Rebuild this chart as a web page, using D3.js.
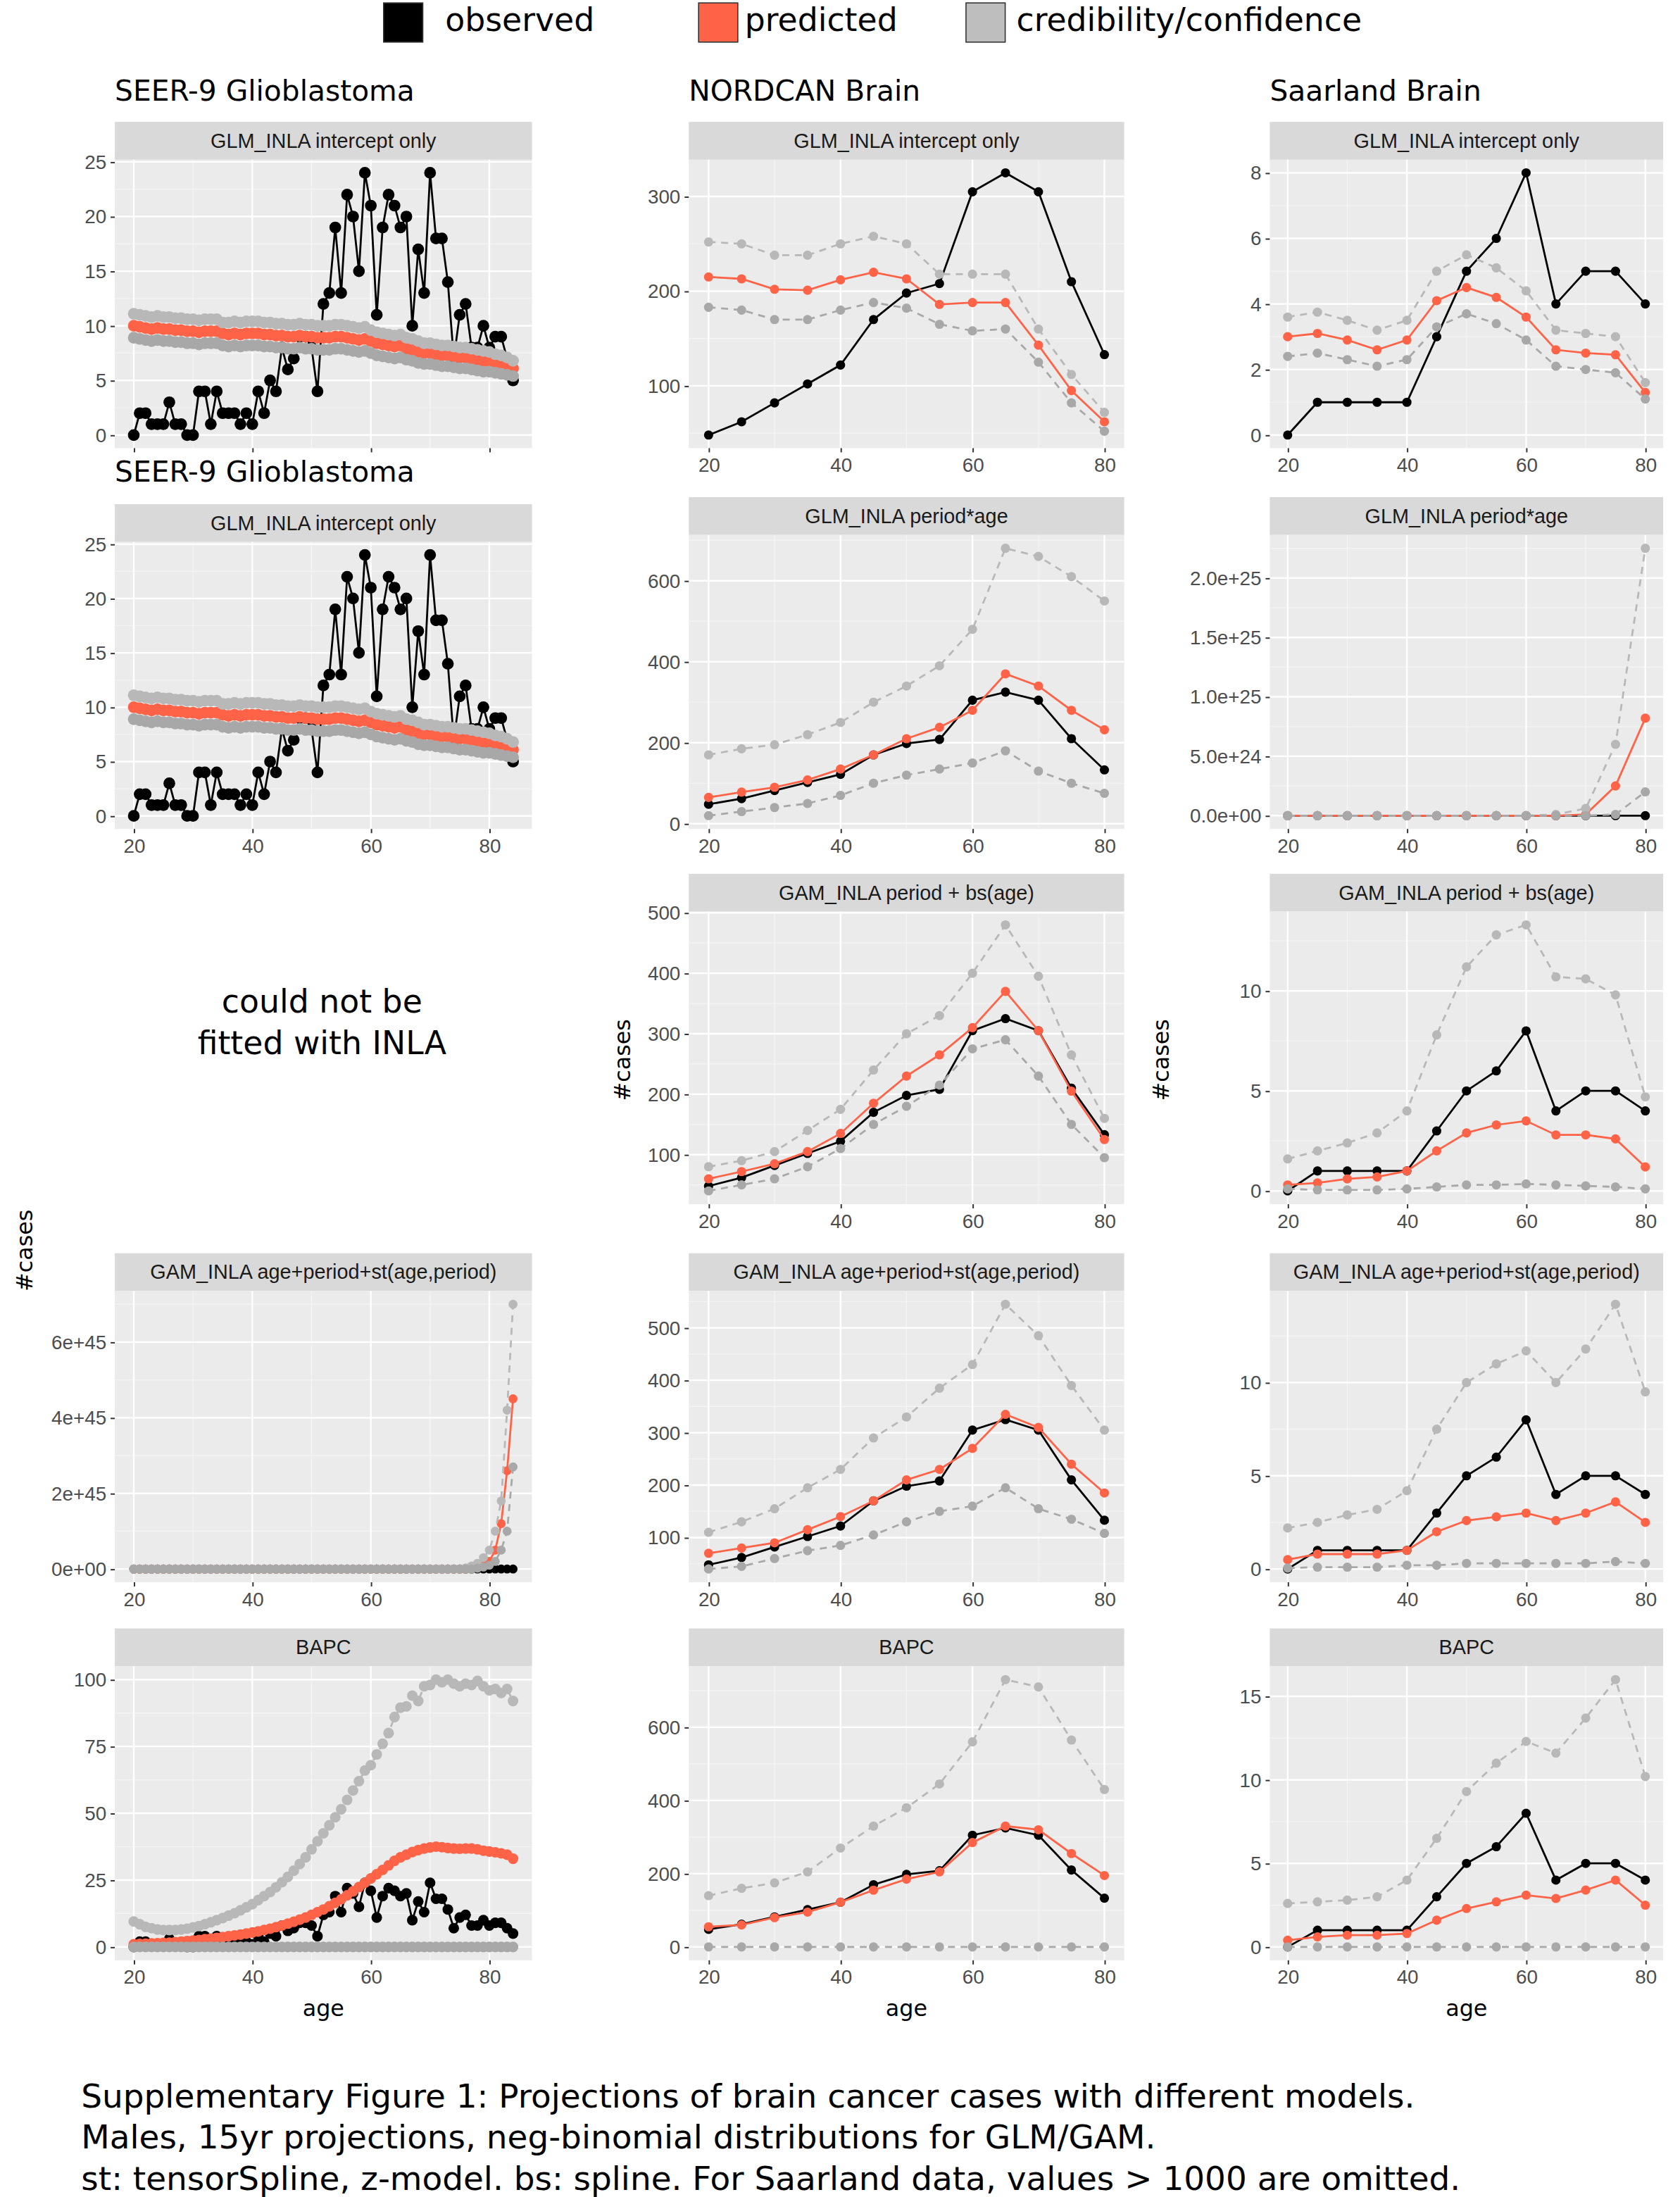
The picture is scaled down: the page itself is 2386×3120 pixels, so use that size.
<!DOCTYPE html>
<html><head><meta charset="utf-8">
<script src="https://cdn.jsdelivr.net/npm/d3@7"></script>
<style>body{margin:0;background:#fff}</style>
</head><body>
<svg id="c" width="2386" height="3120" viewBox="0 0 1200 1569"></svg>
<script>
// ---- data ----
var seerAges = d3.range(20, 85);
var fiveAges = [20,25,30,35,40,45,50,55,60,65,70,75,80];

var seerObs = [0,2,2,1,1,1,3,1,1,0, 0,4,4,1,4,2,2,2,1,2, 1,4,2,5,4,8,6,7,9,9,
  8,4,12,13,19,13,22,20,15,24, 21,11,19,22,21,19,20,10,17,13, 24,18,18,14,7,11,12,8,8,10, 8,9,9,7,5];
var seerIntPred = [10.0,9.9,9.8,9.7,9.8,9.7,9.7,9.6,9.6,9.5, 9.5,9.4,9.5,9.5,9.5,9.3,9.2,9.3,9.2,9.3,
  9.3,9.3,9.2,9.2,9.1,9.1,9.0,9.0,9.1,9.0, 9.0,8.9,8.9,8.9,9.0,9.0,8.9,8.8,8.7,8.8,
  8.6,8.4,8.3,8.2,8.1,8.2,7.9,7.8,7.6,7.5, 7.5,7.4,7.3,7.3,7.2,7.1,7.1,7.0,6.9,6.8, 6.7,6.6,6.5,6.3,6.1];
var seerIntHi = [11.1,11.0,10.9,10.8,10.9,10.8,10.8,10.7,10.7,10.6, 10.6,10.5,10.6,10.6,10.6,10.3,10.3,10.4,10.3,10.4,
  10.4,10.4,10.3,10.3,10.2,10.2,10.1,10.1,10.2,10.1, 10.1,10.0,10.0,10.0,10.1,10.1,10.0,9.9,9.8,9.9,
  9.6,9.4,9.3,9.2,9.1,9.2,8.9,8.8,8.6,8.4, 8.4,8.3,8.2,8.2,8.1,8.0,8.0,7.9,7.8,7.7, 7.6,7.4,7.3,7.1,6.8];
var seerIntLo = [8.9,8.8,8.7,8.6,8.7,8.6,8.6,8.5,8.5,8.4, 8.4,8.3,8.4,8.4,8.4,8.2,8.1,8.2,8.1,8.2,
  8.2,8.2,8.1,8.1,8.0,8.0,7.9,7.9,8.0,7.9, 7.9,7.8,7.8,7.8,7.9,7.9,7.8,7.7,7.6,7.7,
  7.5,7.3,7.2,7.1,7.0,7.1,6.9,6.8,6.6,6.5, 6.5,6.4,6.3,6.3,6.2,6.1,6.1,6.0,5.9,5.8, 5.8,5.7,5.6,5.5,5.4];
// GAM st (units 1e45)
var seerStPred = [0,0,0,0,0,0,0,0,0,0, 0,0,0,0,0,0,0,0,0,0, 0,0,0,0,0,0,0,0,0,0, 0,0,0,0,0,0,0,0,0,0,
  0,0,0,0,0,0,0,0,0,0, 0,0,0,0,0,0,0,0.02,0.05,0.1, 0.2,0.5,1.2,2.6,4.5];
var seerStHi = [0,0,0,0,0,0,0,0,0,0, 0,0,0,0,0,0,0,0,0,0, 0,0,0,0,0,0,0,0,0,0, 0,0,0,0,0,0,0,0,0,0,
  0,0,0,0,0,0,0,0,0,0, 0,0,0,0,0,0,0.03,0.08,0.15,0.3, 0.5,1.0,1.8,4.2,7.0];
var seerStLo = [0,0,0,0,0,0,0,0,0,0, 0,0,0,0,0,0,0,0,0,0, 0,0,0,0,0,0,0,0,0,0, 0,0,0,0,0,0,0,0,0,0,
  0,0,0,0,0,0,0,0,0,0, 0,0,0,0,0,0,0,0,0.02,0.05, 0.1,0.2,0.5,1.0,2.7];
var seerBapcPred = [1.0,1.1,1.2,1.3,1.4,1.5,1.6,1.8,2.0,2.2, 2.4,2.6,2.9,3.1,3.4,3.7,4.0,4.3,4.6,5.0,
  5.4,5.8,6.3,6.8,7.4,8.0,8.7,9.4,10.2,11.0, 12.0,13.0,14.0,15.2,16.5,17.8,19.3,20.8,22.4,24.0,
  25.6,27.2,28.8,30.5,32.2,33.5,34.5,35.5,36.2,36.8, 37.2,37.5,37.3,37.0,36.8,36.7,36.8,36.8,36.5,36.0, 35.7,35.4,35.0,34.5,33.0];
var seerBapcHi = [9.5,8.5,7.5,7.0,6.5,6.3,6.3,6.3,6.5,6.8, 7.3,7.8,8.5,9.2,10.0,10.8,11.7,12.6,13.7,14.8,
  16.0,17.5,19.0,20.5,22.3,24.2,26.2,28.5,31.0,33.5, 36.5,39.5,42.5,45.5,48.5,51.5,55.0,58.5,62.0,66.0,
  68.0,72.0,76.0,80.0,86.0,89.5,90.0,94.0,92.0,97.5, 98.0,100,99.0,100,98.5,97.5,98.5,98.0,99.5,97.5, 96.0,96.5,95.0,96.5,92.0];
var seerBapcLo = [0,0,0,0,0,0,0,0,0,0, 0,0,0,0,0,0,0,0,0,0, 0,0,0,0,0,0,0,0,0,0, 0,0,0,0,0,0,0,0,0,0,
  0,0,0,0,0,0,0,0,0,0, 0,0,0,0,0,0,0,0,0,0, 0,0,0,0,0];

var nordObs = [48,62,82,102,122,170,198,208,305,325,305,210,133];
var nordIntPred = [215,213,202,201,212,220,213,186,188,188,143,95,62];
var nordIntHi = [252,250,238,238,250,258,250,218,218,218,160,112,72];
var nordIntLo = [183,180,170,170,180,188,182,165,158,160,125,82,52];
var nordPaPred = [65,78,90,108,135,170,210,238,280,370,340,280,232];
var nordPaHi = [170,185,195,220,250,300,340,390,480,680,660,610,550];
var nordPaLo = [20,30,40,50,70,100,120,135,150,180,130,100,75];
var nordBsPred = [60,72,85,105,135,185,230,265,310,370,305,205,125];
var nordBsHi = [80,90,105,140,175,240,300,330,400,480,395,265,160];
var nordBsLo = [40,50,60,80,110,150,180,215,275,290,230,150,95];
var nordStPred = [70,80,90,115,140,170,210,230,270,335,310,240,185];
var nordStHi = [110,130,155,195,230,290,330,385,430,545,485,390,305];
var nordStLo = [40,45,60,75,85,105,130,150,160,195,155,135,108];
var nordBapcPred = [55,60,80,95,122,155,185,205,285,330,320,255,195];
var nordBapcHi = [140,160,175,205,270,330,380,445,560,730,710,565,430];
var nordBapcLo = [0,0,0,0,0,0,0,0,0,0,0,0,0];

var saarObs = [0,1,1,1,1,3,5,6,8,4,5,5,4];
var saarIntPred = [3,3.1,2.9,2.6,2.9,4.1,4.5,4.2,3.6,2.6,2.5,2.45,1.3];
var saarIntHi = [3.6,3.75,3.5,3.2,3.5,5,5.5,5.1,4.4,3.2,3.1,3.0,1.6];
var saarIntLo = [2.4,2.5,2.3,2.1,2.3,3.3,3.7,3.4,2.9,2.1,2.0,1.9,1.1];
var saarPaPred = [0,0,0,0,0,0,0,0,0,0,0.1e24,2.5e24,8.2e24];
var saarPaHi = [0,0,0,0,0,0,0,0,0,0.1e24,0.6e24,6e24,22.5e24];
var saarPaLo = [0,0,0,0,0,0,0,0,0,0,0,0.1e24,2e24];
var saarBsPred = [0.3,0.4,0.6,0.7,1.0,2.0,2.9,3.3,3.5,2.8,2.8,2.6,1.2];
var saarBsHi = [1.6,2.0,2.4,2.9,4.0,7.8,11.2,12.8,13.3,10.7,10.6,9.8,4.7];
var saarBsLo = [0.1,0.05,0.05,0.05,0.1,0.2,0.3,0.3,0.35,0.3,0.25,0.2,0.1];
var saarStPred = [0.5,0.8,0.8,0.8,1.0,2.0,2.6,2.8,3.0,2.6,3.0,3.6,2.5];
var saarStHi = [2.2,2.5,2.9,3.2,4.2,7.5,10.0,11.0,11.7,10.0,11.8,14.2,9.5];
var saarStLo = [0.05,0.1,0.1,0.1,0.2,0.2,0.3,0.3,0.3,0.3,0.3,0.4,0.3];
var saarBapcPred = [0.4,0.6,0.7,0.7,0.8,1.6,2.3,2.7,3.1,2.9,3.4,4.0,2.5];
var saarBapcHi = [2.6,2.7,2.8,3.0,4.0,6.5,9.3,11.0,12.3,11.6,13.7,16.0,10.2];
var saarBapcLo = [0,0,0,0,0,0,0,0,0,0,0,0,0];

var xTicks = [20,40,60,80];
var fmtE0 = function(d){ return d === 0 ? "0e+00" : (d*1e45).toExponential(0); };
var fmtE1 = function(d){ return d === 0 ? "0.0e+00" : d.toExponential(1); };

// ---- layout (viewBox units) ----
var cols = [{x0:82, x1:380, dom:[16.8,87.2]}, {x0:492, x1:803, dom:[17,83]}, {x0:907, x1:1188, dom:[17,83]}];
var rows = [{t:87, b:320}, {t:355, b:592}, {t:624, b:860}, {t:895, b:1130}, {t:1163, b:1400}];
var stripH = 27;

var panels = [
  {c:0, r:0, title:"GLM_INLA intercept only", ages:seerAges, obs:seerObs, pred:seerIntPred, hi:seerIntHi, lo:seerIntLo, yt:[0,5,10,15,20,25], noX:true, pr:4.2},
  {c:0, r:1, title:"GLM_INLA intercept only", ages:seerAges, obs:seerObs, pred:seerIntPred, hi:seerIntHi, lo:seerIntLo, yt:[0,5,10,15,20,25], pr:4.2, shift:5},
  {c:0, r:3, title:"GAM_INLA age+period+st(age,period)", ages:seerAges, obs:seerObs.map(function(v){return v*1e-45;}), pred:seerStPred, hi:seerStHi, lo:seerStLo, yt:[0,2,4,6], fmt:fmtE0, pr:3.2},
  {c:0, r:4, title:"BAPC", ages:seerAges, obs:seerObs, pred:seerBapcPred, hi:seerBapcHi, lo:seerBapcLo, yt:[0,25,50,75,100], pr:3.8},
  {c:1, r:0, title:"GLM_INLA intercept only", ages:fiveAges, obs:nordObs, pred:nordIntPred, hi:nordIntHi, lo:nordIntLo, yt:[100,200,300]},
  {c:1, r:1, title:"GLM_INLA period*age", ages:fiveAges, obs:nordObs, pred:nordPaPred, hi:nordPaHi, lo:nordPaLo, yt:[0,200,400,600]},
  {c:1, r:2, title:"GAM_INLA period + bs(age)", ages:fiveAges, obs:nordObs, pred:nordBsPred, hi:nordBsHi, lo:nordBsLo, yt:[100,200,300,400,500]},
  {c:1, r:3, title:"GAM_INLA age+period+st(age,period)", ages:fiveAges, obs:nordObs, pred:nordStPred, hi:nordStHi, lo:nordStLo, yt:[100,200,300,400,500]},
  {c:1, r:4, title:"BAPC", ages:fiveAges, obs:nordObs, pred:nordBapcPred, hi:nordBapcHi, lo:nordBapcLo, yt:[0,200,400,600]},
  {c:2, r:0, title:"GLM_INLA intercept only", ages:fiveAges, obs:saarObs, pred:saarIntPred, hi:saarIntHi, lo:saarIntLo, yt:[0,2,4,6,8]},
  {c:2, r:1, title:"GLM_INLA period*age", ages:fiveAges, obs:saarObs, pred:saarPaPred, hi:saarPaHi, lo:saarPaLo, yt:[0,5e24,1e25,1.5e25,2e25], fmt:fmtE1},
  {c:2, r:2, title:"GAM_INLA period + bs(age)", ages:fiveAges, obs:saarObs, pred:saarBsPred, hi:saarBsHi, lo:saarBsLo, yt:[0,5,10]},
  {c:2, r:3, title:"GAM_INLA age+period+st(age,period)", ages:fiveAges, obs:saarObs, pred:saarStPred, hi:saarStHi, lo:saarStLo, yt:[0,5,10]},
  {c:2, r:4, title:"BAPC", ages:fiveAges, obs:saarObs, pred:saarBapcPred, hi:saarBapcHi, lo:saarBapcLo, yt:[0,5,10,15]}
];

var svg = d3.select("#c");
var tickFont = "Liberation Sans, Arial, sans-serif";
var dejavu = "DejaVu Sans, sans-serif";

panels.forEach(function(p){
  var col = cols[p.c], row = rows[p.r];
  var st = row.t + (p.shift || 0);
  var top = st + stripH, bot = row.b;
  var all = p.obs.concat(p.pred, p.hi, p.lo);
  var mn = d3.min(all), mx = d3.max(all), pad = (mx - mn) * 0.05;
  var x = d3.scaleLinear().domain(col.dom).range([col.x0, col.x1]);
  var y = d3.scaleLinear().domain([mn - pad, mx + pad]).range([bot, top]);
  var g = svg.append("g");

  g.append("rect").attr("x", col.x0).attr("y", st).attr("width", col.x1 - col.x0).attr("height", stripH).attr("fill", "#d9d9d9");
  g.append("text").attr("x", (col.x0 + col.x1) / 2).attr("y", st + 18.5).attr("text-anchor", "middle")
    .attr("font-family", tickFont).attr("font-size", 14.5).attr("fill", "#1a1a1a").text(p.title);
  g.append("rect").attr("x", col.x0).attr("y", top).attr("width", col.x1 - col.x0).attr("height", bot - top).attr("fill", "#ebebeb");

  // grid
  var step = p.yt[1] - p.yt[0];
  var yMinor = p.yt.map(function(t){ return t - step / 2; }).concat([p.yt[p.yt.length - 1] + step / 2])
    .filter(function(v){ return v > y.domain()[0] && v < y.domain()[1]; });
  var xMinor = [30, 50, 70];
  g.selectAll(".ymin").data(yMinor).enter().append("line").attr("x1", col.x0).attr("x2", col.x1)
    .attr("y1", y).attr("y2", y).attr("stroke", "#f5f5f5").attr("stroke-width", 0.6);
  g.selectAll(".xmin").data(xMinor).enter().append("line").attr("y1", top).attr("y2", bot)
    .attr("x1", x).attr("x2", x).attr("stroke", "#f5f5f5").attr("stroke-width", 0.6);
  g.selectAll(".ymaj").data(p.yt).enter().append("line").attr("x1", col.x0).attr("x2", col.x1)
    .attr("y1", y).attr("y2", y).attr("stroke", "#fff").attr("stroke-width", 1.2);
  g.selectAll(".xmaj").data(xTicks).enter().append("line").attr("y1", top).attr("y2", bot)
    .attr("x1", x).attr("x2", x).attr("stroke", "#fff").attr("stroke-width", 1.2);

  // axes
  var ya = g.append("g").attr("transform", "translate(" + col.x0 + ",0)")
    .call(d3.axisLeft(y).tickValues(p.yt).tickSize(3).tickPadding(3).tickFormat(p.fmt || d3.format("d")));
  var xa = g.append("g").attr("transform", "translate(0," + bot + ")")
    .call(d3.axisBottom(x).tickValues(xTicks).tickSize(3).tickPadding(4).tickFormat(p.noX ? "" : d3.format("d")));
  [ya, xa].forEach(function(a){
    a.select(".domain").remove();
    a.selectAll("line").attr("stroke", "#333");
    a.selectAll("text").attr("font-family", tickFont).attr("font-size", 14).attr("fill", "#4d4d4d");
  });

  var r = p.pr || 3.3;
  function series(vals, color, dash){
    var pts = p.ages.map(function(a, i){ return [a, vals[i]]; });
    g.append("path").datum(pts).attr("fill", "none").attr("stroke", color).attr("stroke-width", 1.4)
      .attr("stroke-dasharray", dash || null)
      .attr("d", d3.line().x(function(d){ return x(d[0]); }).y(function(d){ return y(d[1]); }));
    g.selectAll(null).data(pts).enter().append("circle").attr("cx", function(d){ return x(d[0]); })
      .attr("cy", function(d){ return y(d[1]); }).attr("r", r).attr("fill", color);
  }
  series(p.obs, "#000");
  series(p.pred, "#ff6347");
  series(p.hi, "#b8b8b8", "5,4");
  series(p.lo, "#a8a8a8", "5,4");
});

// titles and labels
var heads = [["SEER-9 Glioblastoma", 82, 72], ["SEER-9 Glioblastoma", 82, 344], ["NORDCAN Brain", 492, 72], ["Saarland Brain", 907, 72]];
svg.selectAll(".hd").data(heads).enter().append("text").attr("x", function(d){ return d[1]; }).attr("y", function(d){ return d[2]; })
  .attr("font-family", dejavu).attr("font-size", 20.5).attr("fill", "#000").text(function(d){ return d[0]; });

[["could not be", 723], ["fitted with INLA", 753]].forEach(function(d){
  svg.append("text").attr("x", 230).attr("y", d[1]).attr("text-anchor", "middle").attr("font-family", dejavu)
    .attr("font-size", 23).text(d[0]);
});

cols.forEach(function(c){
  svg.append("text").attr("x", (c.x0 + c.x1) / 2).attr("y", 1440).attr("text-anchor", "middle")
    .attr("font-family", dejavu).attr("font-size", 16).text("age");
});
[[23, 893], [450, 757], [835, 757]].forEach(function(d){
  svg.append("text").attr("transform", "translate(" + d[0] + "," + d[1] + ") rotate(-90)").attr("text-anchor", "middle")
    .attr("font-family", dejavu).attr("font-size", 16).text("#cases");
});

// legend
var legend = [["observed", "#000", 274, 318], ["predicted", "#ff6347", 499, 532], ["credibility/confidence", "#bebebe", 690, 726]];
legend.forEach(function(d){
  svg.append("rect").attr("x", d[2]).attr("y", 2).attr("width", 28).attr("height", 28).attr("fill", d[1])
    .attr("stroke", "#333").attr("stroke-width", 0.8);
  svg.append("text").attr("x", d[3]).attr("y", 22).attr("font-family", dejavu).attr("font-size", 23).text(d[0]);
});

// caption
var caption = ["Supplementary Figure 1: Projections of brain cancer cases with different models.",
  "Males, 15yr projections, neg-binomial distributions for GLM/GAM.",
  "st: tensorSpline, z-model. bs: spline. For Saarland data, values > 1000 are omitted."];
caption.forEach(function(t, i){
  svg.append("text").attr("x", 58).attr("y", 1505 + i * 29.5).attr("font-family", dejavu).attr("font-size", 23.6).text(t);
});
</script>
</body></html>
